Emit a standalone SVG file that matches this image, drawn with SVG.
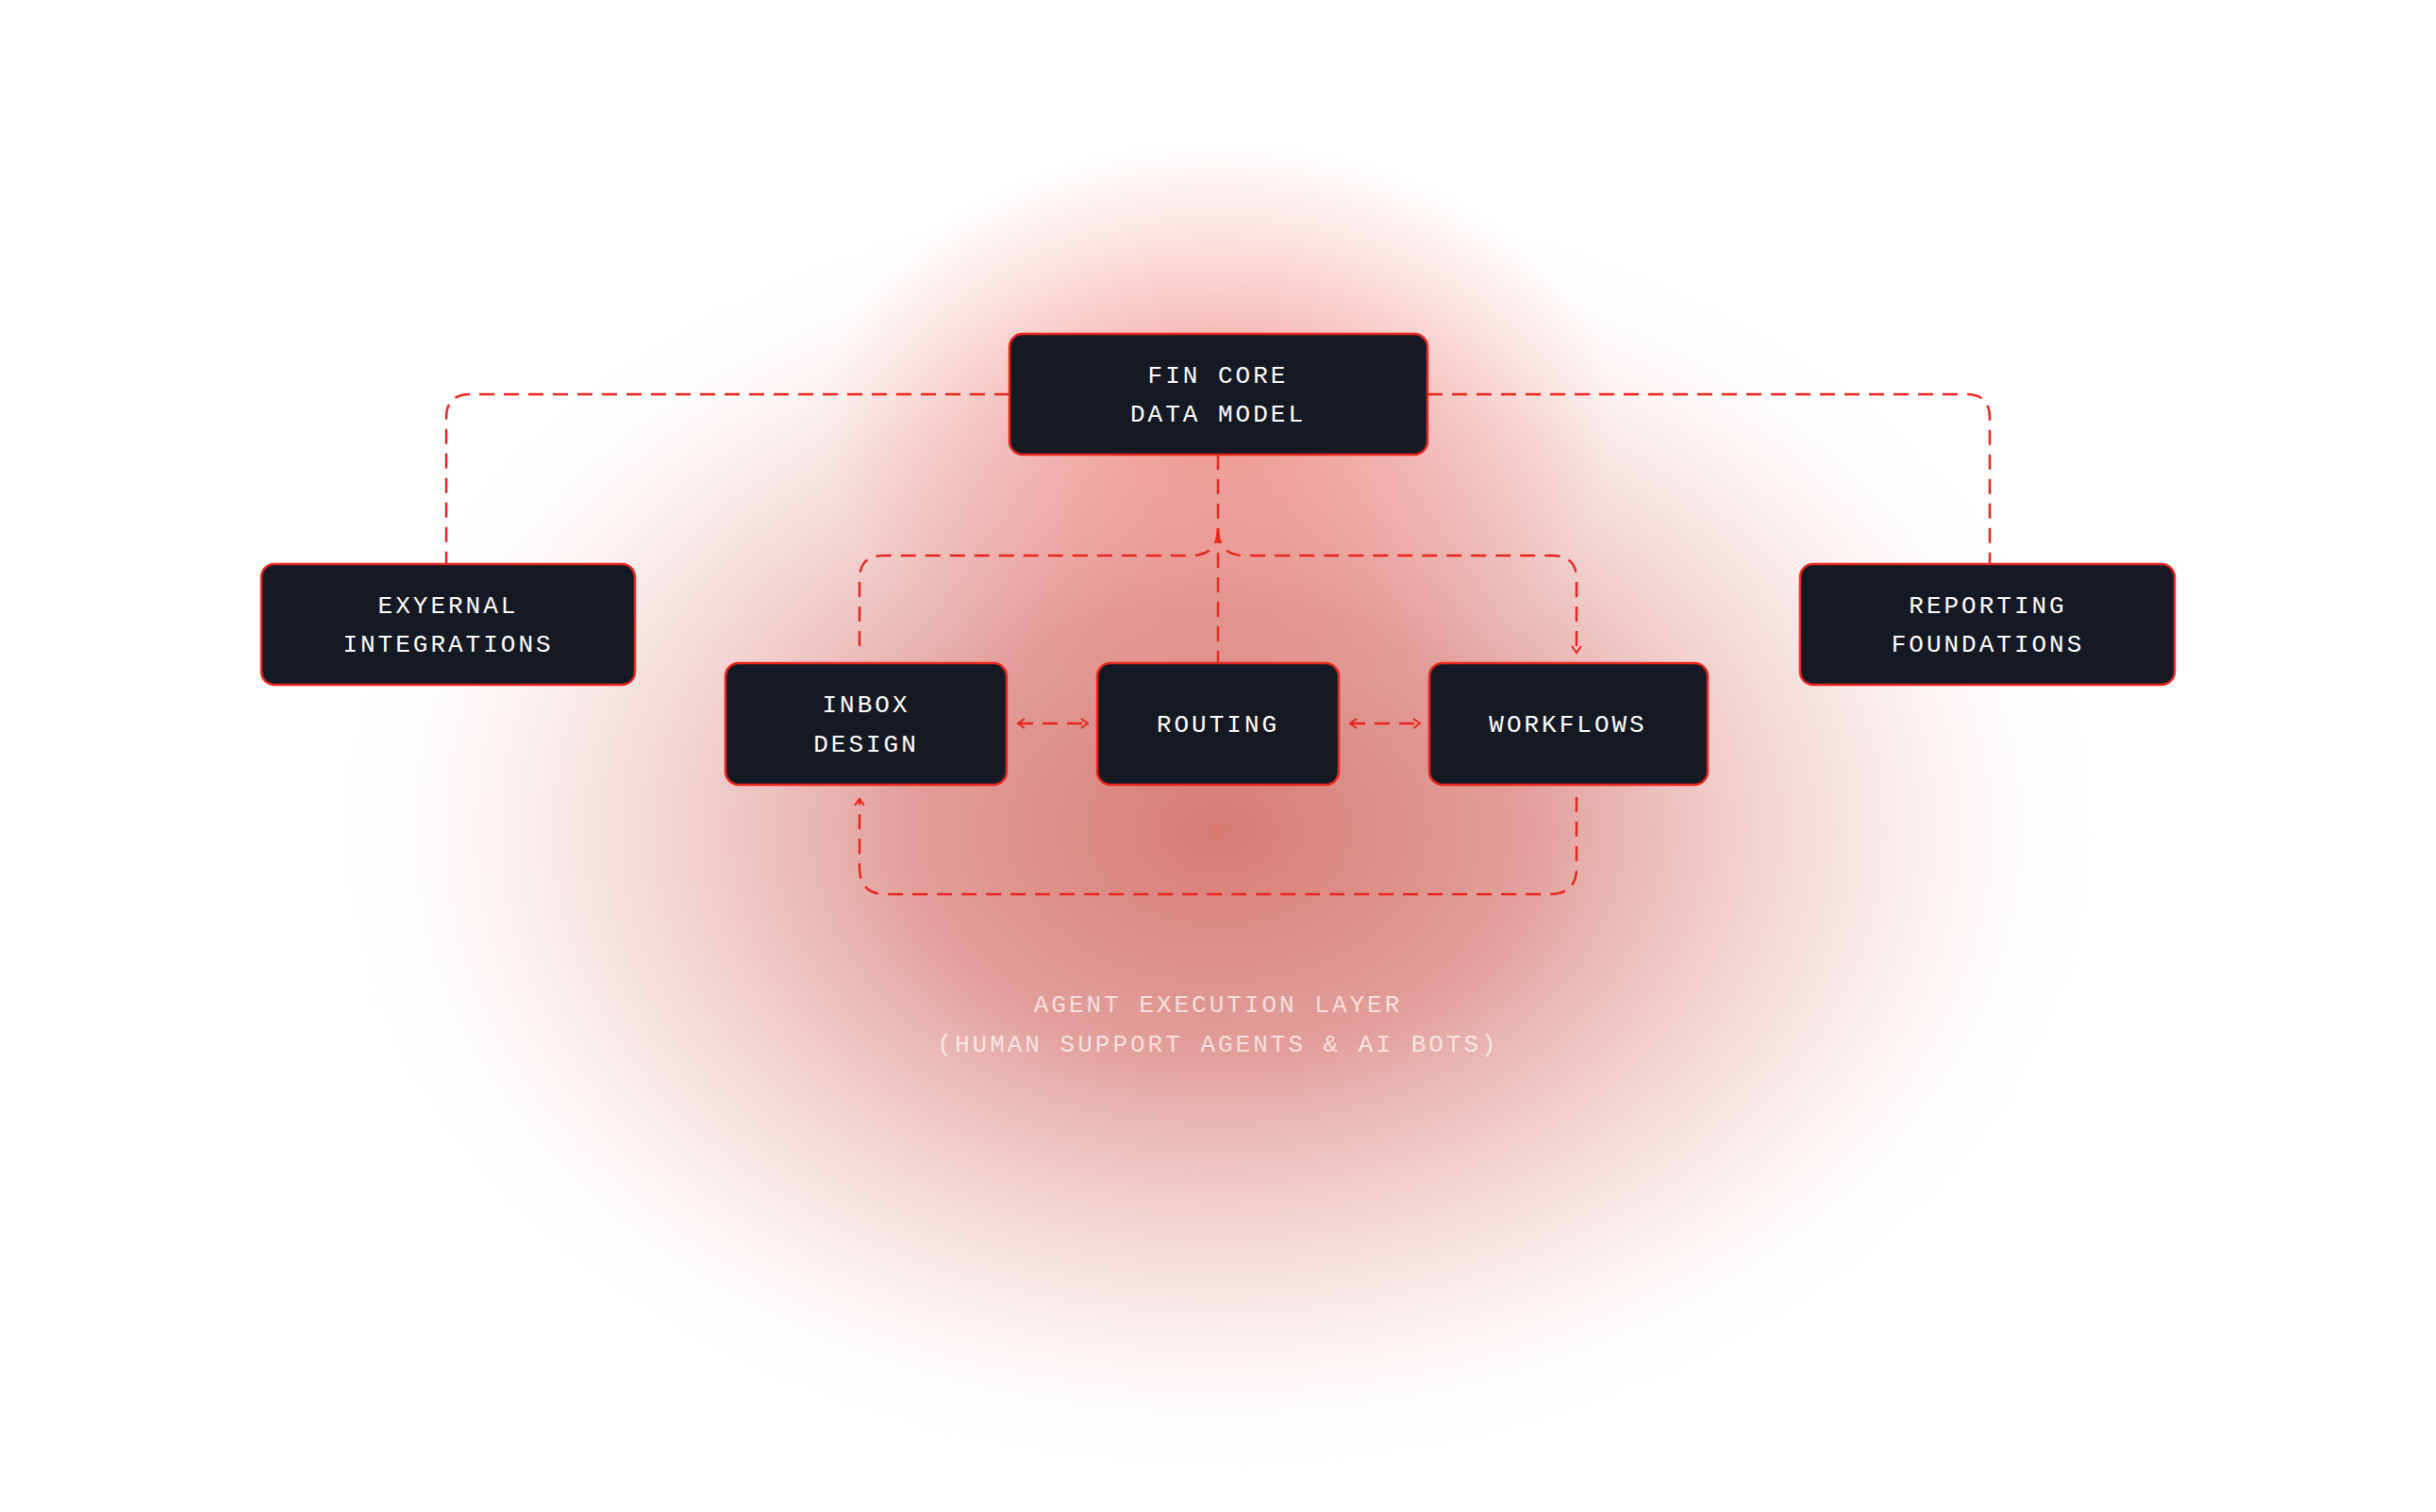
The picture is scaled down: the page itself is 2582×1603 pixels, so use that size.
<svg xmlns="http://www.w3.org/2000/svg" width="2582" height="1603" viewBox="0 0 2582 1603">
<defs>
<radialGradient id="glow" cx="0.5" cy="0.5" r="0.5">
<stop offset="0" stop-color="#d77a74"/>
<stop offset="0.35" stop-color="#dd8e89" stop-opacity="0.85"/>
<stop offset="0.7" stop-color="#efc6c3" stop-opacity="0.5"/>
<stop offset="1" stop-color="#ffffff" stop-opacity="0"/>
</radialGradient>
<radialGradient id="topglow" cx="0.5" cy="0.5" r="0.5">
<stop offset="0" stop-color="#f06a60" stop-opacity="0.55"/>
<stop offset="1" stop-color="#f06a60" stop-opacity="0"/>
</radialGradient>
<filter id="shadow" x="-20%" y="-40%" width="140%" height="180%">
<feGaussianBlur stdDeviation="10"/>
</filter>
<marker id="arr" viewBox="0 0 12 12" refX="10" refY="6" markerWidth="12" markerHeight="12" markerUnits="userSpaceOnUse" orient="auto-start-reverse">
<path d="M3,1 L10,6 L3,11" fill="none" stroke="#e8261f" stroke-width="2"/>
</marker>
<style>
.box{fill:#151924;stroke:#e8261f;stroke-width:2.5}
.lbl{font-family:"Liberation Mono","DejaVu Sans Mono",monospace;font-size:26px;letter-spacing:3px;fill:#ffffff;text-anchor:middle}
.cap{font-family:"Liberation Mono","DejaVu Sans Mono",monospace;font-size:26px;letter-spacing:3px;fill:#ffffff;fill-opacity:0.7;text-anchor:middle}
.dash{fill:none;stroke:#e8261f;stroke-width:2.5;stroke-dasharray:16 10}
</style>
</defs>
<rect width="2582" height="1603" fill="#ffffff"/>
<ellipse cx="1291" cy="880" rx="950" ry="690" fill="url(#glow)"/>
<ellipse cx="1291" cy="450" rx="420" ry="300" fill="url(#topglow)"/>
<g id="connectors">
<path class="dash" d="M1070,418 H498 Q473,418 473,443 V598"/>
<path class="dash" d="M1513,418 H2084 Q2109,418 2109,443 V598"/>
<path class="dash" d="M1291,482 V703"/>
<path class="dash" d="M1291,560 Q1291,589 1262,589 H936 Q911,589 911,614 V692"/>
<path class="dash" d="M1291,560 Q1291,589 1320,589 H1646 Q1671,589 1671,614 V692" marker-end="url(#arr)"/>
<path class="dash" d="M1671,845 V920 Q1671,948 1643,948 H939 Q911,948 911,920 V847" marker-end="url(#arr)"/>
<path class="dash" d="M1079,767 H1153" stroke-dasharray="0 12 20 12" marker-start="url(#arr)" marker-end="url(#arr)"/>
<path class="dash" d="M1431,767 H1505" stroke-dasharray="0 12 20 12" marker-start="url(#arr)" marker-end="url(#arr)"/>
</g>
<g id="fin-core">
<rect class="box" x="1070" y="354" width="443" height="128" rx="14"/>
<text class="lbl" x="1291" y="406">FIN CORE</text>
<text class="lbl" x="1291" y="447">DATA MODEL</text>
</g>
<g id="external">
<rect class="box" x="277" y="598" width="396" height="128" rx="14"/>
<text class="lbl" x="475" y="650">EXYERNAL</text>
<text class="lbl" x="475" y="691">INTEGRATIONS</text>
</g>
<g id="reporting">
<rect class="box" x="1908" y="598" width="397" height="128" rx="14"/>
<text class="lbl" x="2107" y="650">REPORTING</text>
<text class="lbl" x="2107" y="691">FOUNDATIONS</text>
</g>
<g id="inbox">
<rect class="box" x="769" y="703" width="298" height="129" rx="14"/>
<text class="lbl" x="918" y="755">INBOX</text>
<text class="lbl" x="918" y="797">DESIGN</text>
</g>
<g id="routing">
<rect class="box" x="1163" y="703" width="256" height="129" rx="14"/>
<text class="lbl" x="1291" y="776">ROUTING</text>
</g>
<g id="workflows">
<rect class="box" x="1515" y="703" width="295" height="129" rx="14"/>
<text class="lbl" x="1662" y="776">WORKFLOWS</text>
</g>
<g id="caption">
<text class="cap" x="1291" y="1073">AGENT EXECUTION LAYER</text>
<text class="cap" x="1291" y="1115">(HUMAN SUPPORT AGENTS &amp; AI BOTS)</text>
</g>
</svg>
